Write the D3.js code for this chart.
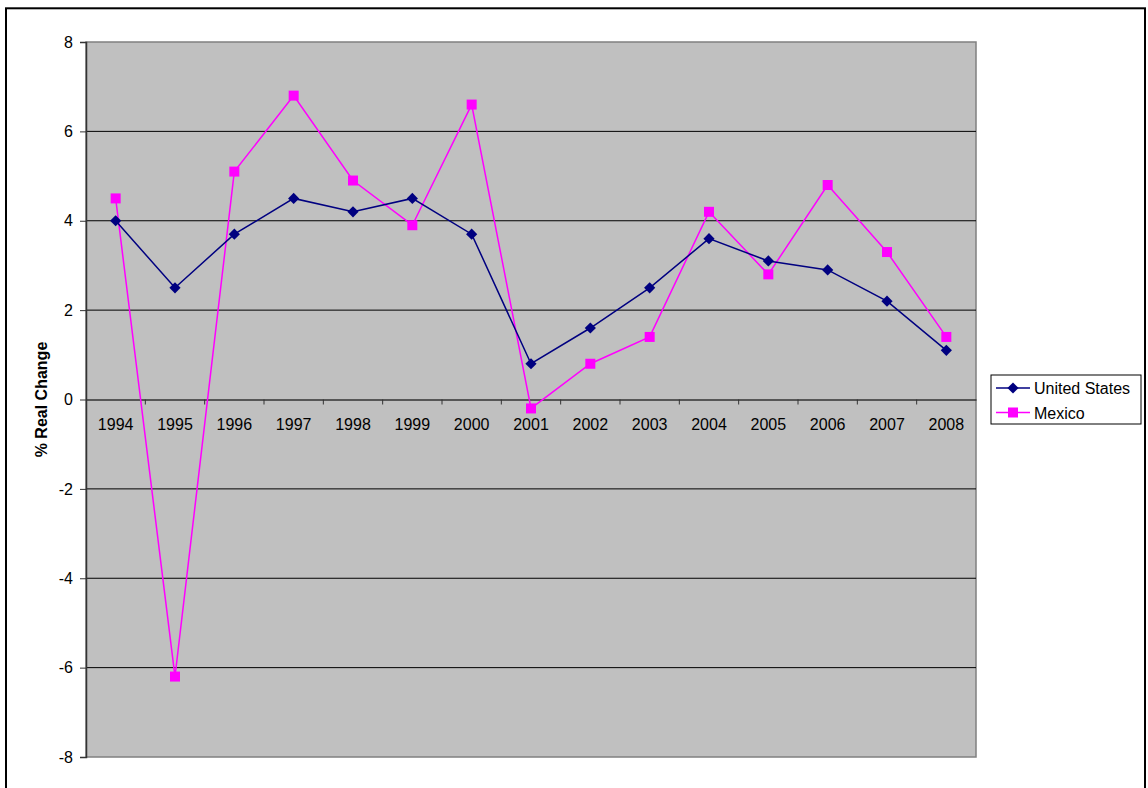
<!DOCTYPE html>
<html>
<head>
<meta charset="utf-8">
<script src="https://cdn.jsdelivr.net/npm/d3@7"></script>
<style>
  body { margin: 0; background: #fff; }
  svg { display: block; font-family: "Liberation Sans", Arial, sans-serif; }
</style>
</head>
<body>
<svg width="1148" height="788"></svg>
<script>
const years = ["1994","1995","1996","1997","1998","1999","2000","2001","2002","2003","2004","2005","2006","2007","2008"];
const usValues = [4.0, 2.5, 3.7, 4.5, 4.2, 4.5, 3.7, 0.8, 1.6, 2.5, 3.6, 3.1, 2.9, 2.2, 1.1];
const mexicoValues = [4.5, -6.2, 5.1, 6.8, 4.9, 3.9, 6.6, -0.2, 0.8, 1.4, 4.2, 2.8, 4.8, 3.3, 1.4];
const yTicks = [-8, -6, -4, -2, 0, 2, 4, 6, 8];

const svg = d3.select("svg");

// outer chart border
svg.append("rect")
    .attr("x", 6).attr("y", 8.3)
    .attr("width", 1139).attr("height", 790)
    .attr("fill", "none")
    .attr("stroke", "black")
    .attr("stroke-width", 2);

const plotLeft = 86, plotRight = 976, plotTop = 42, plotBottom = 757;

const x = d3.scaleBand().domain(years).range([plotLeft, plotRight]);
const y = d3.scaleLinear().domain([-8, 8]).range([plotBottom, plotTop]);

// plot area
svg.append("rect")
    .attr("x", plotLeft).attr("y", plotTop)
    .attr("width", plotRight - plotLeft).attr("height", plotBottom - plotTop)
    .attr("fill", "#c0c0c0")
    .attr("stroke", "#808080")
    .attr("stroke-width", 1.5);

// gridlines
svg.append("g")
    .selectAll("line")
    .data(yTicks.filter(d => d !== 8 && d !== -8 && d !== 0))
    .enter()
    .append("line")
    .attr("x1", plotLeft).attr("x2", plotRight)
    .attr("y1", d => y(d)).attr("y2", d => y(d))
    .attr("stroke", "black")
    .attr("stroke-width", 1);

// y axis
const yAxis = d3.axisLeft(y).tickValues(yTicks).tickSize(6).tickFormat(d => String(d));
const gy = svg.append("g")
    .attr("transform", `translate(${plotLeft},0)`)
    .call(yAxis);
gy.select(".domain").attr("stroke", "#333").attr("stroke-width", 1.5);
gy.selectAll(".tick line").attr("stroke", "#333");
gy.selectAll(".tick text")
    .style("font-size", "16px")
    .attr("font-family", "Liberation Sans, Arial, sans-serif")
    .attr("fill", "black")
    .attr("x", -13);

// y axis title
svg.append("text")
    .attr("transform", `translate(47, ${y(0)}) rotate(-90)`)
    .attr("text-anchor", "middle")
    .style("font-size", "16px")
    .attr("font-weight", "bold")
    .text("% Real Change");

// x axis at zero
const xAxis = d3.axisBottom(x).tickSize(0).tickPadding(19);
const gx = svg.append("g")
    .attr("transform", `translate(0,${y(0)})`)
    .call(xAxis);
gx.select(".domain").attr("stroke", "#333").attr("stroke-width", 1.5);
gx.selectAll(".tick text")
    .style("font-size", "16px")
    .attr("font-family", "Liberation Sans, Arial, sans-serif")
    .attr("fill", "black");

// category boundary tick marks
svg.append("g")
    .selectAll("line")
    .data(years.slice(1))
    .enter()
    .append("line")
    .attr("x1", d => x(d)).attr("x2", d => x(d))
    .attr("y1", y(0)).attr("y2", y(0) + 5)
    .attr("stroke", "#333");

const cx = d => x(d) + x.bandwidth() / 2;

const line = d3.line()
    .x((d, i) => cx(years[i]))
    .y(d => y(d));

// Mexico
svg.append("path")
    .datum(mexicoValues)
    .attr("d", line)
    .attr("fill", "none")
    .attr("stroke", "#ff00ff")
    .attr("stroke-width", 1.5);

// United States
svg.append("path")
    .datum(usValues)
    .attr("d", line)
    .attr("fill", "none")
    .attr("stroke", "#000080")
    .attr("stroke-width", 1.5);

svg.append("g")
    .selectAll("rect")
    .data(mexicoValues)
    .enter()
    .append("rect")
    .attr("x", (d, i) => cx(years[i]) - 5)
    .attr("y", d => y(d) - 5)
    .attr("width", 10).attr("height", 10)
    .attr("fill", "#ff00ff");

const diamond = d3.symbol().type(d3.symbolDiamond2).size(80);
svg.append("g")
    .selectAll("path")
    .data(usValues)
    .enter()
    .append("path")
    .attr("d", diamond)
    .attr("transform", (d, i) => `translate(${cx(years[i])},${y(d)})`)
    .attr("fill", "#000080");

// legend
const legend = svg.append("g").attr("transform", "translate(991,375)");
legend.append("rect")
    .attr("width", 150).attr("height", 49)
    .attr("fill", "white")
    .attr("stroke", "black");

const legendItems = [
    {name: "United States", color: "#000080", marker: "diamond"},
    {name: "Mexico", color: "#ff00ff", marker: "square"}
];
legendItems.forEach((item, i) => {
    const ly = 13 + i * 24.5;
    legend.append("line")
        .attr("x1", 5).attr("x2", 39)
        .attr("y1", ly).attr("y2", ly)
        .attr("stroke", item.color)
        .attr("stroke-width", 1.5);
    if (item.marker === "diamond") {
        legend.append("path")
            .attr("d", diamond)
            .attr("transform", `translate(22,${ly})`)
            .attr("fill", item.color);
    } else {
        legend.append("rect")
            .attr("x", 17).attr("y", ly - 5)
            .attr("width", 10).attr("height", 10)
            .attr("fill", item.color);
    }
    legend.append("text")
        .attr("x", 43)
        .attr("y", ly + 6)
        .style("font-size", "16px")
        .text(item.name);
});
</script>
</body>
</html>
